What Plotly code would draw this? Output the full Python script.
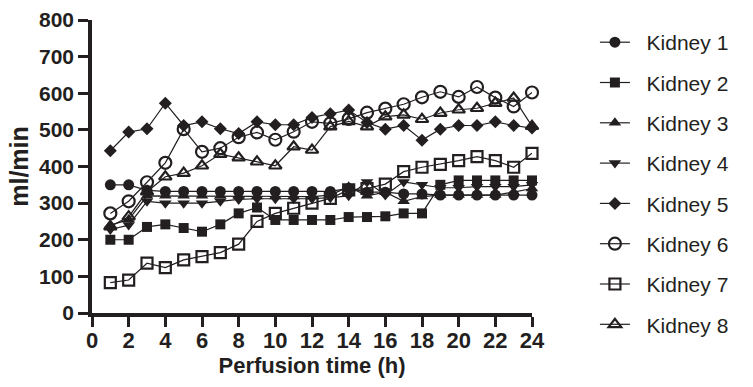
import plotly.graph_objects as go

hours = list(range(1, 25))
names = ["Kidney 1", "Kidney 2", "Kidney 3", "Kidney 4",
         "Kidney 5", "Kidney 6", "Kidney 7", "Kidney 8"]

kidney1 = [350, 350, 335, 332, 332, 332, 332, 332, 332, 332, 332, 332,
           332, 340, 330, 330, 325, 325, 322, 322, 322, 322, 322, 322]
kidney2 = [200, 200, 235, 242, 232, 222, 242, 272, 288, 254, 254, 254,
           254, 262, 262, 264, 272, 272, 350, 362, 362, 362, 362, 362]
kidney3 = [240, 255, 320, 320, 320, 320, 320, 320, 318, 318, 318, 318,
           322, 345, 320, 330, 305, 318, 322, 322, 322, 322, 330, 340]
kidney4 = [228, 240, 305, 300, 300, 300, 305, 310, 312, 312, 312, 312,
           315, 320, 358, 322, 358, 350, 342, 342, 345, 345, 345, 350]
kidney5 = [443, 494, 503, 573, 512, 522, 503, 490, 522, 514, 514, 534,
           544, 554, 520, 502, 512, 472, 502, 512, 512, 522, 512, 505]
kidney6 = [272, 305, 357, 410, 502, 440, 450, 480, 493, 473, 495, 522,
           518, 530, 547, 558, 570, 589, 604, 590, 617, 588, 564, 602]
kidney7 = [83, 90, 136, 124, 145, 154, 165, 188, 250, 272, 286, 300,
           313, 336, 340, 352, 386, 398, 406, 416, 427, 416, 398, 436]
kidney8 = [236, 263, 331, 372, 382, 402, 434, 424, 413, 402, 454, 445,
           509, 523, 509, 536, 541, 529, 546, 555, 559, 573, 587, 510]

series = [kidney1, kidney2, kidney3, kidney4, kidney5, kidney6, kidney7, kidney8]
symbols = ["circle", "square", "triangle-up", "triangle-down",
           "diamond", "circle-open", "square-open", "triangle-up-open"]
sizes = [11, 10, 11, 11, 10, 12, 11, 11]

x_ticks = list(range(0, 25, 2))
y_ticks = list(range(0, 801, 100))

ink = "#231f20"
fig = go.Figure()
for i, (nm, vals) in enumerate(zip(names, series)):
    fig.add_trace(go.Scatter(
        x=hours, y=vals, name="\u00a0\u00a0" + nm, mode="lines+markers",
        line=dict(color=ink, width=1.2),
        marker=dict(symbol=symbols[i], size=sizes[i], color=ink,
                    line=dict(color=ink, width=2.2 if "open" in symbols[i] else 0)),
        cliponaxis=False, legendgroup=nm,
    ))

fig.update_layout(
    width=753, height=387,
    margin=dict(l=92, r=221, t=20, b=74),
    plot_bgcolor="white", paper_bgcolor="white",
    font=dict(family="Liberation Sans, Arial, sans-serif", color=ink),
    showlegend=True,
    legend=dict(x=1.143, xanchor="left", y=0.993, yanchor="top",
                font=dict(size=21, color=ink), tracegroupgap=10,
                itemwidth=30, maxheight=380, bgcolor="rgba(0,0,0,0)"),
    xaxis=dict(range=[0, 24], tickvals=x_ticks, ticktext=[str(v) for v in x_ticks],
               showgrid=False, zeroline=False, showline=True, linewidth=3.5,
               linecolor=ink, ticks="outside", ticklen=10, tickwidth=3,
               tickcolor=ink, automargin=False, ticklabelstandoff=-5,
               tickfont=dict(size=22, family="Liberation Sans, Arial", weight="bold"),
               title=dict(text="<b>Perfusion time (h)</b>", font=dict(size=22),
                          standoff=2)),
    yaxis=dict(range=[0, 800], tickvals=y_ticks, ticktext=[str(v) for v in y_ticks],
               showgrid=False, zeroline=False, showline=True, linewidth=3.5,
               linecolor=ink, ticks="outside", ticklen=10, tickwidth=3,
               tickcolor=ink, automargin=False,
               tickfont=dict(size=21, family="Liberation Sans, Arial", weight="bold"),
               title=dict(text="<b>ml/min</b>", font=dict(size=25), standoff=4)),
)

fig.write_html("out.html", config={"displayModeBar": False},
               post_script="document.body.style.margin='0';")
